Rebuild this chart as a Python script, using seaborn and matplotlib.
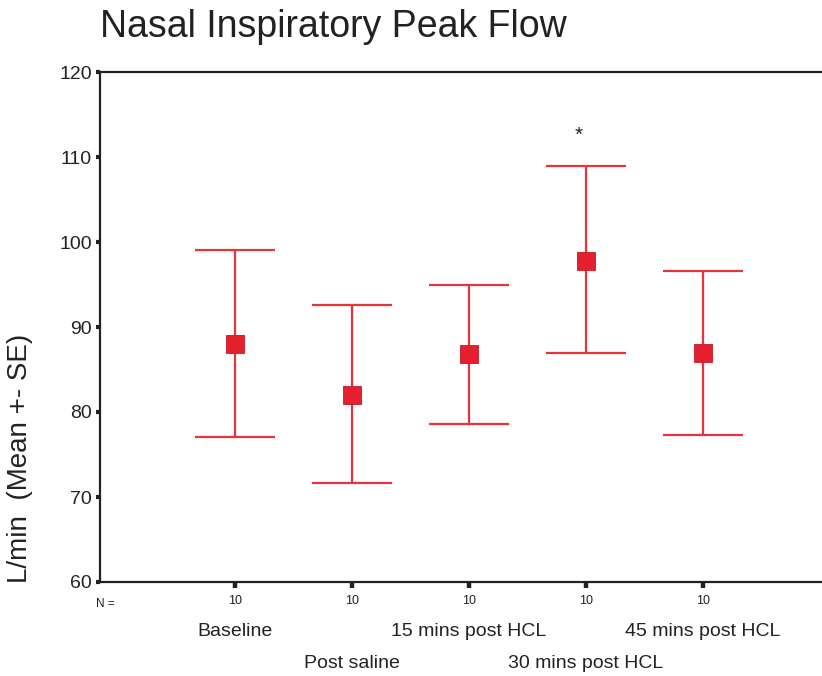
import numpy as np
import pandas as pd
import matplotlib
matplotlib.use("Agg")
import matplotlib.pyplot as plt
import matplotlib.transforms as mtransforms
import seaborn as sns

# Nasal inspiratory peak flow, mean +- SE per time point
groups = ["Baseline", "Post saline", "15 mins post HCL", "30 mins post HCL", "45 mins post HCL"]
means = [88.0, 82.0, 86.8, 97.8, 86.9]
lower = [77.1, 71.7, 78.6, 86.9, 77.3]
upper = [99.1, 92.6, 95.0, 108.9, 96.6]
n_counts = [10, 10, 10, 10, 10]
yticks = [60, 70, 80, 90, 100, 110, 120]

df = pd.DataFrame({"pos": np.arange(len(groups)), "group": groups,
                   "mean": means, "lower": lower, "upper": upper})

sns.set_style("white")
plt.rcParams["font.family"] = ["Liberation Sans", "DejaVu Sans"]

W, H = 822, 676
fig = plt.figure(figsize=(W / 100, H / 100), dpi=100)
ax = fig.add_axes([100 / W, (H - 582) / H, 730 / W, 510 / H])

red = "#e8323c"
err_lo = df["mean"] - df["lower"]
err_hi = df["upper"] - df["mean"]
ax.errorbar(df["pos"], df["mean"], yerr=[err_lo, err_hi], fmt="none",
            ecolor=red, elinewidth=1.6, capsize=29, capthick=1.6, zorder=2)
sns.scatterplot(data=df, x="pos", y="mean", marker="s", s=150, color="#e4202e",
                edgecolor="#c81824", linewidth=0.6, ax=ax, zorder=3, legend=False)

ax.set_xlim(-135 / 116.8, 5.09)
ax.set_ylim(60, 120)

for side in ["left", "top", "bottom"]:
    ax.spines[side].set_visible(True)
    ax.spines[side].set_color("#222222")
    ax.spines[side].set_linewidth(1.6)
ax.spines["right"].set_visible(False)

ax.set_yticks(yticks)
ax.set_yticklabels([str(v) for v in yticks], fontsize=14, color="#222222")
ax.set_xticks(df["pos"])
ax.set_xticklabels([str(n) for n in n_counts], fontsize=9, color="#222222")
ax.tick_params(axis="y", direction="out", length=3, width=3, color="#222222", pad=3, left=True)
ax.tick_params(axis="x", direction="out", length=4, width=3.2, color="#222222", pad=5, bottom=True)
ax.set_xlabel("")
ax.set_ylabel("")

# N = label and staggered category names below the axis
fig.text(105 / W, 1 - 604 / H, "N =", fontsize=8.5, ha="center", va="center", color="#222222")
trans = mtransforms.blended_transform_factory(ax.transData, fig.transFigure)
for i, g in enumerate(groups):
    yrow = 632 if i % 2 == 0 else 663
    ax.text(i, 1 - yrow / H, g, transform=trans, ha="center", va="center",
            fontsize=14, color="#222222")

# significance marker above 30 mins
ax.text(3 - 0.06, upper[3] + 3.6, "*", ha="center", va="center", fontsize=15, color="#222222")

fig.text(20 / W, 1 - 458 / H, "L/min  (Mean +- SE)", rotation=90, ha="center", va="center",
         fontsize=20, color="#222222")
fig.text(100 / W, 1 - 27 / H, "Nasal Inspiratory Peak Flow", ha="left", va="center",
         fontsize=27, color="#222222")

fig.savefig("out.png", dpi=100)
